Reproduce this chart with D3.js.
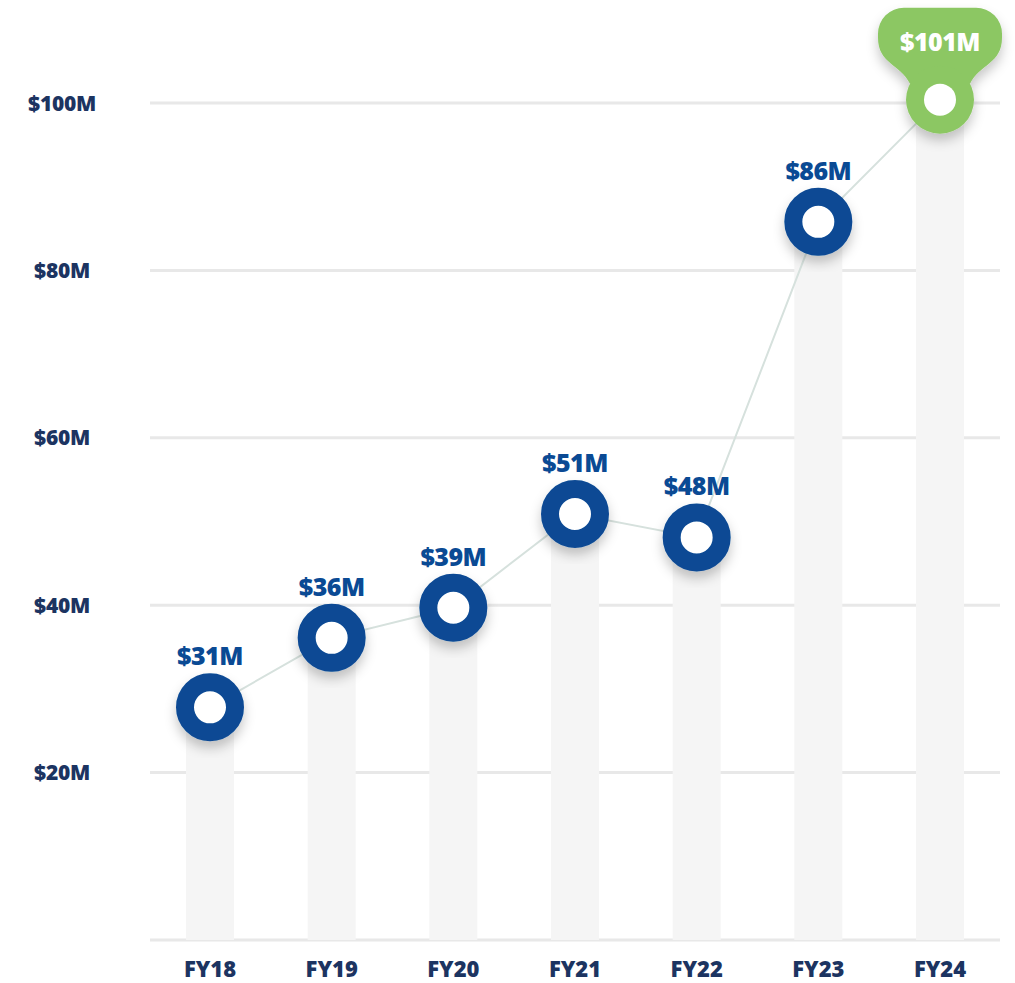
<!DOCTYPE html>
<html>
<head>
<meta charset="utf-8">
<script src="https://cdn.jsdelivr.net/npm/d3@7"></script>
<style>
  body { margin: 0; background: #fff; overflow: hidden; }
  svg text { font-family: "Open Sans", Lato, sans-serif; font-weight: 800; }
</style>
</head>
<body>
<div id="container"></div>
<script>
/* CONSTANTS AND GLOBALS */
const width = 1015, height = 983;

// data
const years = ["FY18", "FY19", "FY20", "FY21", "FY22", "FY23", "FY24"];
const revenue = [27.8, 36.1, 39.7, 50.9, 48.1, 85.8, 100.4];
const valueLabels = ["$31M", "$36M", "$39M", "$51M", "$48M", "$86M", "$101M"];
const yTicks = [20, 40, 60, 80, 100];
const yTickLabels = ["$20M", "$40M", "$60M", "$80M", "$100M"];

const navy = "#0a4a94", ink = "#1c3461", green = "#8cc764";

const svg = d3.select("#container")
  .append("svg")
  .attr("width", width)
  .attr("height", height);

// shadow for the markers
const defs = svg.append("defs");
defs.append("filter")
  .attr("id", "shadow")
  .attr("x", "-50%").attr("y", "-50%")
  .attr("width", "200%").attr("height", "200%")
  .append("feDropShadow")
  .attr("dx", 0).attr("dy", 7)
  .attr("stdDeviation", 6)
  .attr("flood-color", "#000")
  .attr("flood-opacity", 0.22);

// SCALES
const x = d3.scalePoint()
  .domain(years)
  .range([210, 940]);

const y = d3.scaleLinear()
  .domain([0, 100])
  .range([940, 103]);

// gridlines
svg.append("g")
  .selectAll("line")
  .data([0].concat(yTicks))
  .join("line")
  .attr("x1", 150)
  .attr("x2", 1000)
  .attr("y1", d => y(d))
  .attr("y2", d => y(d))
  .attr("stroke", "#e8e8e8")
  .attr("stroke-width", 3);

// y labels
svg.append("g")
  .selectAll("text")
  .data(yTicks)
  .join("text")
  .attr("x", 62)
  .attr("y", d => y(d))
  .attr("dy", "0.36em")
  .attr("text-anchor", "middle")
  .attr("fill", ink)
  .style("font-size", "21px")
  .style("letter-spacing", "-0.3px")
  .text((d, i) => yTickLabels[i]);

// bars
const barW = 48;
svg.append("g")
  .selectAll("rect")
  .data(revenue)
  .join("rect")
  .attr("x", (d, i) => x(years[i]) - barW / 2)
  .attr("y", d => y(d))
  .attr("width", barW)
  .attr("height", d => y(0) - y(d))
  .attr("fill", "#f5f5f5");

// x labels
svg.append("g")
  .selectAll("text")
  .data(years)
  .join("text")
  .attr("x", d => x(d))
  .attr("y", 977)
  .attr("text-anchor", "middle")
  .attr("fill", ink)
  .style("font-size", "22px")
  .text(d => d);

// connecting line
const line = d3.line()
  .x((d, i) => x(years[i]))
  .y(d => y(d));

svg.append("path")
  .datum(revenue)
  .attr("d", line)
  .attr("fill", "none")
  .attr("stroke", "#d6e1dd")
  .attr("stroke-width", 2);

// markers (all but the last)
const last = revenue.length - 1;
const pts = revenue.slice(0, last);

svg.append("g")
  .selectAll("circle")
  .data(pts)
  .join("circle")
  .attr("cx", (d, i) => x(years[i]))
  .attr("cy", d => y(d))
  .attr("r", 25)
  .attr("fill", "#fff")
  .attr("stroke", navy)
  .attr("stroke-width", 18)
  .attr("filter", "url(#shadow)");

svg.append("g")
  .selectAll("text")
  .data(pts)
  .join("text")
  .attr("x", (d, i) => x(years[i]))
  .attr("y", d => y(d) - 42)
  .attr("text-anchor", "middle")
  .attr("fill", navy)
  .style("font-size", "25px")
  .style("letter-spacing", "-0.5px")
  .text((d, i) => valueLabels[i]);

// highlighted last point with badge
const cx = x(years[last]), cy = y(revenue[last]);
const badge = svg.append("g").attr("filter", "url(#shadow)");
badge.append("path")
  .attr("d", `M${cx - 30},${cy - 16}
    C${cx - 40},${cy - 36} ${cx - 62},${cy - 36} ${cx - 62},${cy - 62}
    L${cx - 62},${cy - 66}
    A26,26 0 0 1 ${cx - 36},${cy - 92}
    L${cx + 36},${cy - 92}
    A26,26 0 0 1 ${cx + 62},${cy - 66}
    L${cx + 62},${cy - 62}
    C${cx + 62},${cy - 36} ${cx + 40},${cy - 36} ${cx + 30},${cy - 16} Z`)
  .attr("fill", green);
badge.append("circle")
  .attr("cx", cx)
  .attr("cy", cy)
  .attr("r", 34)
  .attr("fill", green);

svg.append("circle")
  .attr("cx", cx)
  .attr("cy", cy)
  .attr("r", 16)
  .attr("fill", "#fff");

svg.append("text")
  .attr("x", cx)
  .attr("y", cy - 49)
  .attr("text-anchor", "middle")
  .attr("fill", "#fff")
  .style("font-size", "25px")
  .style("letter-spacing", "-0.5px")
  .text(valueLabels[last]);
</script>
</body>
</html>
